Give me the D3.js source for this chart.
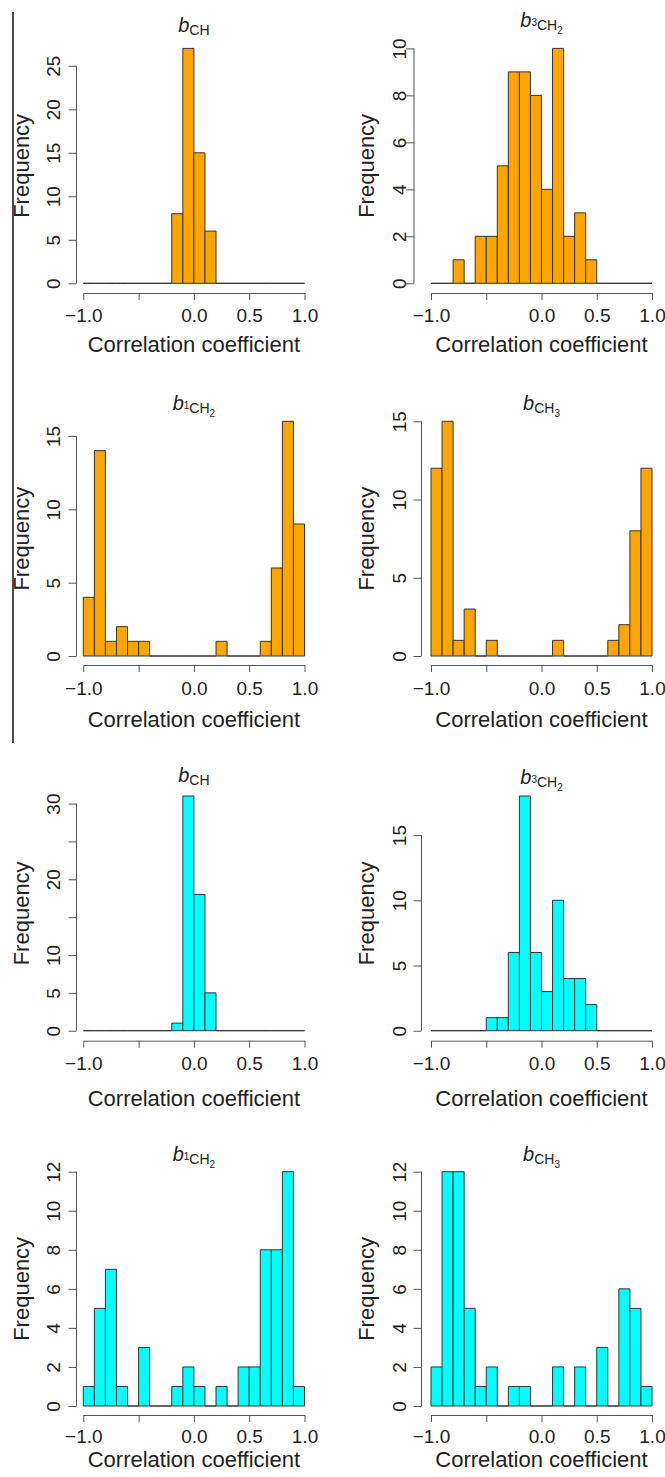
<!DOCTYPE html>
<html>
<head>
<meta charset="utf-8">
<script src="https://cdn.jsdelivr.net/npm/d3@7"></script>
<style>
  html, body { margin: 0; padding: 0; background: #fff; }
  svg { display: block; font-family: "Liberation Sans", Arial, Helvetica, sans-serif; }
</style>
</head>
<body>
<svg width="665" height="1477"></svg>
<script>
// bin lower edges of every histogram (width 0.1)
const bins = [-1.0, -0.9, -0.8, -0.7, -0.6, -0.5, -0.4, -0.3, -0.2, -0.1,
              0.0, 0.1, 0.2, 0.3, 0.4, 0.5, 0.6, 0.7, 0.8, 0.9];
const binWidth = 0.1;

// counts, one per bin
const orangeCH   = [0, 0, 0, 0, 0, 0, 0, 0, 8, 27, 15, 6, 0, 0, 0, 0, 0, 0, 0, 0];
const orange3CH2 = [0, 0, 1, 0, 2, 2, 5, 9, 9, 8, 4, 10, 2, 3, 1, 0, 0, 0, 0, 0];
const orange1CH2 = [4, 14, 1, 2, 1, 1, 0, 0, 0, 0, 0, 0, 1, 0, 0, 0, 1, 6, 16, 9];
const orangeCH3  = [12, 15, 1, 3, 0, 1, 0, 0, 0, 0, 0, 1, 0, 0, 0, 0, 1, 2, 8, 12];
const cyanCH     = [0, 0, 0, 0, 0, 0, 0, 0, 1, 31, 18, 5, 0, 0, 0, 0, 0, 0, 0, 0];
const cyan3CH2   = [0, 0, 0, 0, 0, 1, 1, 6, 18, 6, 3, 10, 4, 4, 2, 0, 0, 0, 0, 0];
const cyan1CH2   = [1, 5, 7, 1, 0, 3, 0, 0, 1, 2, 1, 0, 1, 0, 2, 2, 8, 8, 12, 1];
const cyanCH3    = [2, 12, 12, 5, 1, 2, 0, 1, 1, 0, 0, 2, 0, 2, 0, 3, 0, 6, 5, 1];

// axis ticks
const xTicks = [-1, -0.5, 0, 0.5, 1];
const xTickLabels = ["\u22121.0", "", "0.0", "0.5", "1.0"];
const yTicks5to25 = [0, 5, 10, 15, 20, 25];
const yTicks2to10 = [0, 2, 4, 6, 8, 10];
const yTicks5to15 = [0, 5, 10, 15];
const yTicks5to30 = [0, 5, 10, 15, 20, 25, 30];
const yLabels5to30 = [0, 5, 10, 20, 30];
const yTicks2to12 = [0, 2, 4, 6, 8, 10, 12];

// titles: [base, pre-superscript, subscript, sub-subscript]
const titleCH   = ["b", "", "CH", ""];
const title3CH2 = ["b", "3", "CH", "2"];
const title1CH2 = ["b", "1", "CH", "2"];
const titleCH3  = ["b", "", "CH", "3"];

const orange = "#FFA500", cyan = "#00FFFF";

// layout
const rows = [
  {y0: 283.3, yTop: 48.4, axisY: 293, tickBase: 322, labBase: 352},
  {y0: 656, yTop: 421.3, axisY: 665, tickBase: 695, labBase: 726.5},
  {y0: 1030.7, yTop: 796, axisY: 1040.7, tickBase: 1070, labBase: 1106},
  {y0: 1406, yTop: 1171.7, axisY: 1415, tickBase: 1443, labBase: 1467}
];
const cols = [
  {x0: 83.3, x1: 304.5, yAxisX: 76.5, yTickBase: 60, freqBase: 28.5},
  {x0: 431, x1: 652, yAxisX: 421.5, yTickBase: 406, freqBase: 373.5}
];

const panels = [
  {row: 0, col: 0, counts: orangeCH,   fill: orange, title: titleCH,   titleY: 31.5, ticks: yTicks5to25},
  {row: 0, col: 1, counts: orange3CH2, fill: orange, title: title3CH2, titleY: 27,   ticks: yTicks2to10, yAxisX: 414},
  {row: 1, col: 0, counts: orange1CH2, fill: orange, title: title1CH2, titleY: 410,  ticks: yTicks5to15},
  {row: 1, col: 1, counts: orangeCH3,  fill: orange, title: titleCH3,  titleY: 410,  ticks: yTicks5to15},
  {row: 2, col: 0, counts: cyanCH,     fill: cyan,   title: titleCH,   titleY: 781.5, ticks: yTicks5to30, labels: yLabels5to30},
  {row: 2, col: 1, counts: cyan3CH2,   fill: cyan,   title: title3CH2, titleY: 784,  ticks: yTicks5to15},
  {row: 3, col: 0, counts: cyan1CH2,   fill: cyan,   title: title1CH2, titleY: 1161, ticks: yTicks2to12},
  {row: 3, col: 1, counts: cyanCH3,    fill: cyan,   title: titleCH3,  titleY: 1161, ticks: yTicks2to12}
];

const svg = d3.select("svg");

// frame line on the left of the top block
svg.append("line")
  .attr("x1", 13).attr("x2", 13).attr("y1", 12).attr("y2", 743)
  .attr("stroke", "#111").attr("stroke-width", 1.5);

panels.forEach(p => {
  const r = rows[p.row], c = cols[p.col];
  const yAxisX = p.yAxisX || c.yAxisX;
  const g = svg.append("g");

  const x = d3.scaleLinear().domain([-1, 1]).range([c.x0, c.x1]);
  const y = d3.scaleLinear().domain([0, d3.max(p.counts)]).range([r.y0, r.yTop]);

  // bars (zero bins still draw as a line on the base)
  g.append("g")
    .selectAll("path")
    .data(bins.map((b, i) => ({lo: b, hi: b + binWidth, n: p.counts[i]})))
    .join("path")
      .attr("d", d => `M${x(d.lo)},${y(0)}V${y(d.n)}H${x(d.hi)}V${y(0)}Z`)
      .attr("fill", p.fill)
      .attr("stroke", "#333")
      .attr("stroke-width", 1);

  // x axis
  const xa = g.append("g")
    .attr("transform", `translate(0,${r.axisY})`)
    .call(d3.axisBottom(x).tickValues(xTicks).tickSize(7).tickSizeOuter(0)
      .tickFormat((d, i) => xTickLabels[i]));
  xa.select(".domain").attr("stroke", "#555");
  xa.selectAll(".tick line").attr("stroke", "#555");
  xa.selectAll(".tick text")
    .attr("y", r.tickBase - r.axisY).attr("dy", 0)
    .attr("font-size", 19).attr("fill", "#222");

  // y axis
  const shown = p.labels || p.ticks;
  const ya = g.append("g")
    .attr("transform", `translate(${yAxisX},0)`)
    .call(d3.axisLeft(y).tickValues(p.ticks).tickSize(8)
      .tickFormat(d => shown.includes(d) ? d : ""));
  ya.select(".domain").remove();
  ya.append("line")
    .attr("y1", y(p.ticks[0])).attr("y2", y(p.ticks[p.ticks.length - 1]))
    .attr("stroke", "#555");
  ya.selectAll(".tick line").attr("stroke", "#555");
  ya.selectAll(".tick text")
    .attr("x", 0).attr("dy", 0)
    .attr("text-anchor", "middle")
    .attr("transform", `translate(${c.yTickBase - yAxisX},0) rotate(-90)`)
    .attr("font-size", 19).attr("fill", "#222");

  // axis titles
  g.append("text")
    .attr("x", (c.x0 + c.x1) / 2).attr("y", r.labBase)
    .attr("text-anchor", "middle").attr("font-size", 22).attr("fill", "#222")
    .text("Correlation coefficient");
  g.append("text")
    .attr("transform", `translate(${c.freqBase},${(r.y0 + r.yTop) / 2}) rotate(-90)`)
    .attr("text-anchor", "middle").attr("font-size", 22).attr("fill", "#222")
    .text("Frequency");

  // panel title b_{...}
  const [base, pre, sub, subsub] = p.title;
  const t = g.append("text")
    .attr("x", (c.x0 + c.x1) / 2).attr("y", p.titleY)
    .attr("text-anchor", "middle").attr("fill", "#222");
  t.append("tspan").attr("font-size", 20).attr("font-style", "italic").text(base);
  let dy = 0;
  if (pre) { t.append("tspan").attr("font-size", 10).attr("dy", -1 - dy).text(pre); dy = -1; }
  t.append("tspan").attr("font-size", 14).attr("dy", 3 - dy).text(sub); dy = 3;
  if (subsub) t.append("tspan").attr("font-size", 10).attr("dy", 6.5 - dy).text(subsub);
});
</script>
</body>
</html>
